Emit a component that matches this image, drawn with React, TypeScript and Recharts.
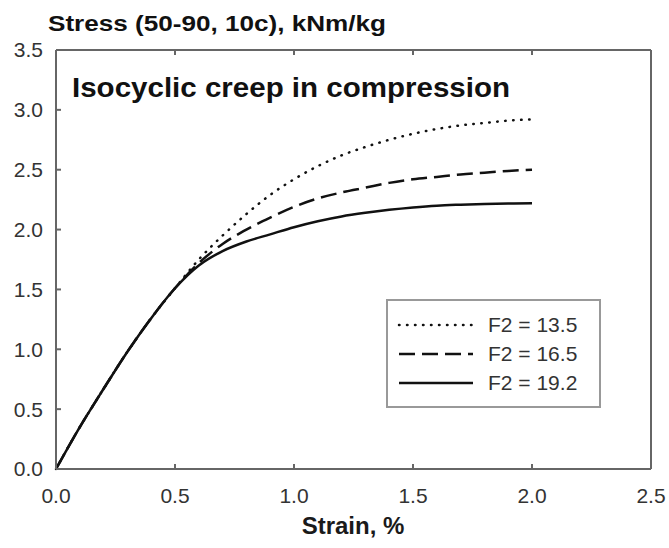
import { LineChart, Line, XAxis, YAxis, Customized } from "recharts";

const strain = [0, 0.1, 0.2, 0.3, 0.4, 0.5, 0.6, 0.7, 0.8, 0.9, 1.0, 1.1, 1.2, 1.3, 1.4, 1.5, 1.6, 1.7, 1.8, 1.9, 2.0];
const f2_135 = [0, 0.35, 0.67, 0.98, 1.26, 1.51, 1.75, 1.95, 2.13, 2.29, 2.42, 2.53, 2.62, 2.69, 2.75, 2.8, 2.84, 2.87, 2.89, 2.91, 2.92];
const f2_165 = [0, 0.35, 0.67, 0.98, 1.26, 1.51, 1.72, 1.88, 2.0, 2.1, 2.19, 2.26, 2.31, 2.35, 2.39, 2.42, 2.44, 2.46, 2.475, 2.49, 2.5];
const f2_192 = [0, 0.35, 0.67, 0.98, 1.26, 1.51, 1.7, 1.82, 1.9, 1.96, 2.02, 2.07, 2.11, 2.14, 2.165, 2.185, 2.2, 2.208, 2.214, 2.218, 2.22];

const xTicks = [0, 0.5, 1.0, 1.5, 2.0, 2.5];
const yTicks = [0, 0.5, 1.0, 1.5, 2.0, 2.5, 3.0, 3.5];

const series = [
  { key: "a", name: "F2 = 13.5", dash: "0.5 7.5", cap: "round" as const },
  { key: "b", name: "F2 = 16.5", dash: "16 7", cap: "butt" as const },
  { key: "c", name: "F2 = 19.2", dash: undefined, cap: "butt" as const },
];

const data = strain.map((s, i) => ({ s, a: f2_135[i], b: f2_165[i], c: f2_192[i] }));

const FONT = "'Liberation Sans', Arial, sans-serif";
const frame = "#666666";
const tickColor = "#666666";
const TICK = 5;
const frameLine = { stroke: frame, strokeWidth: 2 };

// inward tick marks drawn together with the labels
const BottomTick = ({ x, y, payload }: any) => (
  <g>
    <line x1={x} x2={x} y1={y - 19} y2={y - 19 - TICK} stroke={tickColor} strokeWidth={2} />
    <text x={x} y={y} dy="0.71em" textAnchor="middle" fontFamily={FONT} fontSize={21} fill="#333">
      {Number(payload.value).toFixed(1)}
    </text>
  </g>
);

const LeftTick = ({ x, y, payload }: any) => (
  <g>
    <line x1={x + 13} x2={x + 13 + TICK} y1={y} y2={y} stroke={tickColor} strokeWidth={2} />
    <text x={x} y={y} dy="0.355em" textAnchor="end" fontFamily={FONT} fontSize={21} fill="#333">
      {Number(payload.value).toFixed(1)}
    </text>
  </g>
);

const TopTick = ({ x, y }: any) => <line x1={x} x2={x} y1={y} y2={y + TICK} stroke={tickColor} strokeWidth={2} />;
const RightTick = ({ x, y }: any) => <line x1={x} x2={x - TICK} y1={y} y2={y} stroke={tickColor} strokeWidth={2} />;

const Titles = () => (
  <g>
    <text x={48} y={31} fontFamily={FONT} fontWeight="bold" fontSize={22} fill="#111" textLength={338} lengthAdjust="spacingAndGlyphs">
      Stress (50-90, 10c), kNm/kg
    </text>
    <text x={72} y={97} fontFamily={FONT} fontWeight="bold" fontSize={28} fill="#111" textLength={438} lengthAdjust="spacingAndGlyphs">
      Isocyclic creep in compression
    </text>
    <text x={353} y={534} textAnchor="middle" fontFamily={FONT} fontWeight="bold" fontSize={24} fill="#1a1a1a">
      Strain, %
    </text>
  </g>
);

export default function App() {
  return (
    <div style={{ position: "absolute", left: 0, top: 0, width: 669, height: 548, background: "#fff" }}>
      <LineChart width={669} height={548} data={data} margin={{ top: 20, right: 0, left: 0, bottom: 0 }}>
        <XAxis
          dataKey="s"
          type="number"
          domain={[0, 2.5]}
          ticks={xTicks}
          height={79}
          axisLine={frameLine}
          tickLine={false}
          tickSize={0}
          tickMargin={19}
          tick={<BottomTick />}
        />
        <XAxis
          xAxisId="top"
          orientation="top"
          dataKey="s"
          type="number"
          domain={[0, 2.5]}
          ticks={xTicks}
          height={30}
          axisLine={frameLine}
          tickLine={false}
          tickSize={0}
          tickMargin={0}
          tick={<TopTick />}
        />
        <YAxis
          type="number"
          domain={[0, 3.5]}
          ticks={yTicks}
          width={56}
          axisLine={frameLine}
          tickLine={false}
          tickSize={0}
          tickMargin={13}
          tick={<LeftTick />}
        />
        <YAxis
          yAxisId="right"
          orientation="right"
          type="number"
          domain={[0, 3.5]}
          ticks={yTicks}
          width={18}
          axisLine={frameLine}
          tickLine={false}
          tickSize={0}
          tickMargin={0}
          tick={<RightTick />}
        />
        {series.map((s) => (
          <Line
            key={s.key}
            dataKey={s.key}
            type="monotone"
            stroke="#111"
            strokeWidth={2.5}
            strokeDasharray={s.dash}
            strokeLinecap={s.cap}
            dot={false}
            activeDot={false}
            isAnimationActive={false}
          />
        ))}
        <Customized component={<Titles />} />
      </LineChart>
      <div
        style={{
          position: "absolute",
          left: 386,
          top: 299,
          width: 211,
          height: 105,
          border: "2px solid #999",
          boxSizing: "content-box",
          fontFamily: FONT,
        }}
      >
        {series.map((s, i) => (
          <div key={s.key} style={{ position: "absolute", left: 0, top: 10 + i * 29, height: 28, display: "flex", alignItems: "center" }}>
            <svg width={100} height={28} style={{ display: "block" }}>
              <line x1={11} x2={85} y1={14} y2={14} stroke="#111" strokeWidth={2.5} strokeDasharray={s.dash} strokeLinecap={s.cap} />
            </svg>
            <span style={{ fontSize: 21, color: "#333", lineHeight: "28px" }}>{s.name}</span>
          </div>
        ))}
      </div>
    </div>
  );
}
